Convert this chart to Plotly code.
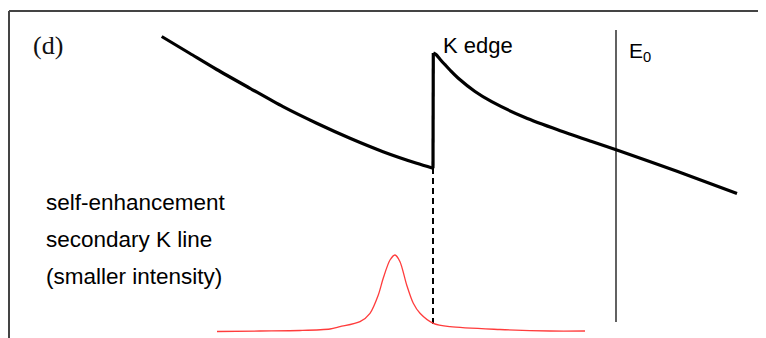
import plotly.graph_objects as go

# Schematic: absorption curve with K edge (arbitrary units)
below_energy = [161.7, 190, 216.7, 250, 283, 316.7, 350, 383, 416.7, 433]
below_intensity = [301.5, 284.5, 268.5, 249.7, 231.3, 214.7, 199.7, 186.3, 174.7, 169.7]

jump_energy = [433, 433.3]
jump_intensity = [169.7, 285]

above_energy = [433.3, 436, 440, 445, 451, 458.3, 475, 491.7, 525, 558.3,
                591.7, 618.3, 677, 737]
above_intensity = [285, 283.5, 278.8, 273.3, 266.8, 259.7, 246.5, 236.3, 220.5, 208,
                   196.5, 187.5, 166.7, 144.5]

# Secondary K line (self-enhancement) peak
peak_energy = [217, 260, 300, 330, 340, 360, 370, 378.3, 383.3, 390, 395, 400,
               406.7, 413.3, 420, 433.3, 450, 500, 550, 585]
peak_intensity = [6.5, 7, 7.5, 9, 11.3, 16.3, 24.7, 43, 60, 78, 83, 76.3,
                  53, 34.7, 24.7, 14.7, 11.3, 8.5, 7, 7]

k_edge_x = [433, 433]
k_edge_y = [170, 13]
e0_x = [616, 616]
e0_y = [308, 16]

labels_left = ["self-enhancement", "secondary K line", "(smaller intensity)"]

fig = go.Figure()
fig.add_trace(go.Scatter(x=k_edge_x, y=k_edge_y, mode="lines",
                         line=dict(color="black", width=2, dash="6px,4px"),
                         hoverinfo="skip"))
fig.add_trace(go.Scatter(x=e0_x, y=e0_y, mode="lines",
                         line=dict(color="#3a3a3a", width=1.6), hoverinfo="skip"))
fig.add_trace(go.Scatter(x=peak_energy, y=peak_intensity, mode="lines",
                         line=dict(color="#ff3c3c", width=1.3, shape="spline", smoothing=0.8),
                         hoverinfo="skip"))
for xs, ys, shp in [(below_energy, below_intensity, "spline"),
                    (jump_energy, jump_intensity, "linear"),
                    (above_energy, above_intensity, "spline")]:
    fig.add_trace(go.Scatter(x=xs, y=ys, mode="lines",
                             line=dict(color="black", width=3.2, shape=shp, smoothing=0.7),
                             hoverinfo="skip"))

sans = "Liberation Sans, Arial, sans-serif"
ann = [
    dict(x=31, y=338 - 45, text="(d)", font=dict(family="Liberation Serif, Times New Roman, serif", size=26, color="#111")),
    dict(x=441, y=338 - 45.5, text="K edge", font=dict(family=sans, size=22, color="black")),
    dict(x=627, y=338 - 52, text="E<sub>0</sub>", font=dict(family=sans, size=21, color="black")),
]
for i, t in enumerate(labels_left):
    ann.append(dict(x=44, y=338 - (202 + 37 * i), text=t, font=dict(family=sans, size=22.5, color="black")))
for a in ann:
    a.update(xref="x", yref="y", xanchor="left", yanchor="middle", showarrow=False)

# the page body adds an 8px offset; axis ranges compensate so marks land where the reference has them
fig.update_layout(
    width=766, height=338,
    margin=dict(l=0, r=0, t=0, b=0),
    paper_bgcolor="white", plot_bgcolor="white",
    showlegend=False,
    xaxis=dict(range=[8, 774], visible=False, fixedrange=True),
    yaxis=dict(range=[-8, 330], visible=False, fixedrange=True),
    annotations=ann,
    shapes=[
        dict(type="line", xref="x", yref="y", x0=9, x1=780, y0=338 - 11, y1=338 - 11,
             line=dict(color="#444", width=2)),
        dict(type="line", xref="x", yref="y", x0=9, x1=9, y0=338 - 11, y1=-10,
             line=dict(color="#444", width=2)),
    ],
)
fig.write_html("out.html")
